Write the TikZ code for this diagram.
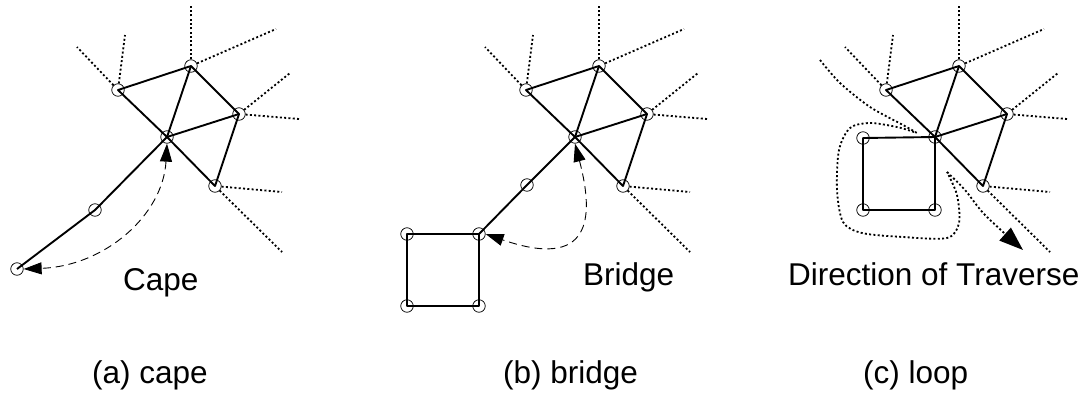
\documentclass[tikz,border=0pt]{standalone}
\usepackage{fontspec}
\setmainfont{Liberation Sans}
\usetikzlibrary{arrows.meta}
\begin{document}
\begin{tikzpicture}[x=1pt,y=-1pt,
  vtx/.style={circle, draw, line width=0.75pt, minimum size=12.5pt, inner sep=0pt},
  edge/.style={line width=1.9pt, line join=round},
  ray/.style={line width=1.8pt, dash pattern=on 2pt off 2.3pt},
  hint/.style={line width=0.9pt, dash pattern=on 8pt off 5pt,
    {Triangle[length=18pt,width=12pt]}-{Triangle[length=18pt,width=12pt]}},
  txt/.style={anchor=base west, inner sep=0pt, font=\fontsize{31.5}{37}\selectfont}]
\useasboundingbox (0,0) rectangle (1086,392);

% the same kite of faces, repeated in the three panels
\foreach \p/\dx in {a/0,b/408,c/768}{
  \begin{scope}[xshift=\dx]
    \node[vtx] (\p A) at (118,90) {};
    \node[vtx] (\p B) at (191,66) {};
    \node[vtx] (\p C) at (239,114) {};
    \node[vtx] (\p O) at (167,137) {};
    \node[vtx] (\p D) at (215,186) {};
    \coordinate (\p A1) at (77,47);
    \coordinate (\p A2) at (125,35);
    \coordinate (\p B1) at (191,5);
    \coordinate (\p B2) at (276,29);
    \coordinate (\p C1) at (290,73);
    \coordinate (\p C2) at (299,119);
    \coordinate (\p D1) at (282,192);
    \coordinate (\p D2) at (282,252);
    \draw[edge] (\p A.center) -- (\p B.center) -- (\p C.center) -- (\p D.center)
      -- (\p O.center) -- cycle;
    \draw[edge] (\p O.center) -- (\p B.center);
    \draw[edge] (\p O.center) -- (\p C.center);
    \draw[ray] (\p A) -- (\p A1);
    \draw[ray] (\p A) -- (\p A2);
    \draw[ray] (\p B) -- (\p B1);
    \draw[ray] (\p B) -- (\p B2);
    \draw[ray] (\p C) -- (\p C1);
    \draw[ray] (\p C) -- (\p C2);
    \draw[ray] (\p D) -- (\p D1);
    \draw[ray] (\p D) -- (\p D2);
  \end{scope}
}

% (a) cape
\node[vtx] (aM) at (95,210) {};
\node[vtx] (aE) at (17,269) {};
\draw[edge] (aO.center) -- (aM.center) -- (aE.center);
\draw[hint] (aO.south) .. controls (163,215) and (105,266) .. (aE.east);
\node[txt] (capeL) at (123,290) {Cape};
\node[txt] (capA) at (92,383) {(a) cape};

% (b) bridge
\node[vtx] (bM) at (527,185) {};
\node[vtx] (bP) at (479,234) {};
\node[vtx] (bQ) at (407,234) {};
\node[vtx] (bR) at (407,306) {};
\node[vtx] (bS) at (479,306) {};
\draw[edge] (bO.center) -- (bM.center) -- (bP.center);
\draw[edge] (bP.center) -- (bQ.center) -- (bR.center) -- (bS.center) -- cycle;
\draw[hint] (bO.south) .. controls (595,220) and (590,270) .. (bP.east);
\node[txt] (bridgeL) at (583,285) {Bridge};
\node[txt] (capB) at (503,383) {(b) bridge};

% (c) loop
\node[vtx] (cQ) at (863,138) {};
\node[vtx] (cR) at (863,210) {};
\node[vtx] (cS) at (935,210) {};
\draw[edge] (cO.center) -- (cQ.center) -- (cR.center) -- (cS.center) -- cycle;
% path of the traverse round the loop
\draw[ray] plot[smooth] coordinates {(820,60) (840,83) (870,107) (903,125) (917,133)};
\draw[ray] plot[smooth] coordinates {(914,132) (897,127) (870,123) (850,128) (839,150)
  (837,190) (843,222) (862,233) (903,237) (947,238) (959,223) (957,195) (947,172)};
\draw[ray, -{Triangle[length=24pt,width=17pt]}] plot[smooth] coordinates
  {(947,172) (965,190) (985,215) (1023,250)};
\node[txt] (travL) at (788,285) {Direction of Traverse};
\node[txt] (capC) at (863,383) {(c) loop};
\end{tikzpicture}
\end{document}
